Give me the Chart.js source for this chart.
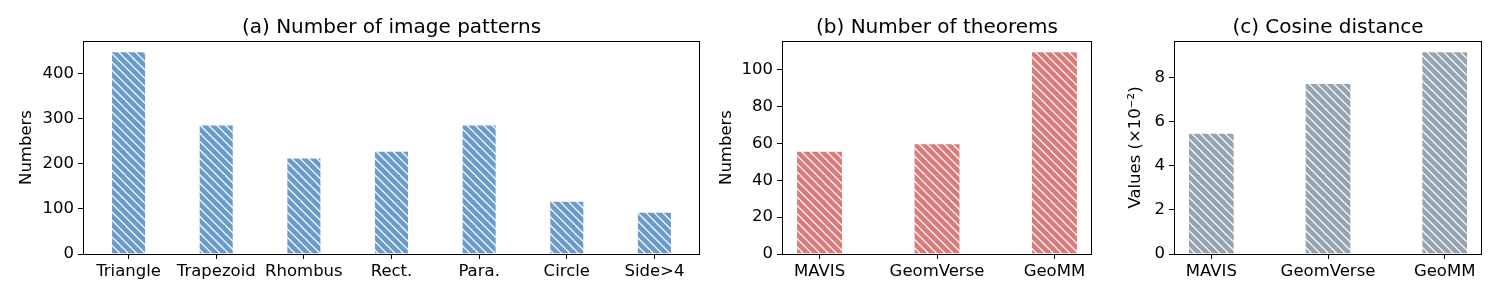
<!DOCTYPE html>
<html>
<head>
<meta charset="utf-8">
<script src="https://cdn.jsdelivr.net/npm/chart.js"></script>
<style>
body { margin: 0; background: #fff; }
#wrap { position: relative; width: 1500px; height: 300px; }
.panel { position: absolute; top: 0; height: 300px; }
</style>
</head>
<body>
<div id="wrap">
	<div class="panel" style="left:0px;width:710px"><canvas id="shapeChart"></canvas></div>
	<div class="panel" style="left:700px;width:400px"><canvas id="theoremChart"></canvas></div>
	<div class="panel" style="left:1100px;width:400px"><canvas id="cosineChart"></canvas></div>
</div>

<script>
// data
var shapeLabels = ["Triangle", "Trapezoid", "Rhombus", "Rect.", "Para.", "Circle", "Side>4"];
var shapeCounts = [450, 287, 214, 229, 287, 118, 94];

var sourceLabels = ["MAVIS", "GeomVerse", "GeoMM"];
var theoremCounts = [56, 60, 110];
var cosineValues = [5.5, 7.75, 9.2];

var FONT = "'DejaVu Sans', sans-serif";
Chart.defaults.font.family = FONT;
Chart.defaults.color = "#000";

// diagonal white hatch like matplotlib "\\"
function hatch(base) {
	var size = 25;
	var c = document.createElement("canvas");
	c.width = size; c.height = size;
	var g = c.getContext("2d");
	g.fillStyle = base;
	g.fillRect(0, 0, size, size);
	g.strokeStyle = "rgba(255,255,255,0.95)";
	g.lineWidth = 1.3;
	var step = size / 3;
	for (var k = -size; k <= size; k += step) {
		g.beginPath();
		g.moveTo(k - 2, -2);
		g.lineTo(k + size + 2, size + 2);
		g.stroke();
	}
	return g.createPattern(c, "repeat");
}

// all four spines + title centred over the axes
var frame = {
	id: "frame",
	afterDatasetsDraw: function (chart) {
		var a = chart.chartArea, ctx = chart.ctx;
		ctx.save();
		ctx.strokeStyle = "#000";
		ctx.lineWidth = 1;
		ctx.strokeRect(Math.round(a.left) + 0.5, Math.round(a.top) + 0.5,
			Math.round(a.right - a.left) - 1, Math.round(a.bottom - a.top));
		ctx.fillStyle = "#000";
		ctx.font = "20px " + FONT;
		ctx.textAlign = "center";
		ctx.textBaseline = "alphabetic";
		ctx.fillText(chart.options.plugins.frame.text, (a.left + a.right) / 2, a.top - 8.5);
		ctx.restore();
	}
};

function makeBar(id, labels, values, color, title, yTitle, yMax, yStep, yWidth, yTitlePad, rightPad) {
	var n = labels.length;
	var margin = 0.05 * (n - 1 + 0.4);
	return new Chart(document.getElementById(id), {
		type: "bar",
		data: {
			datasets: [{
				data: values.map(function (v, i) { return { x: i, y: v }; }),
				backgroundColor: hatch(color),
				borderColor: "rgba(255,255,255,0.8)",
				borderWidth: 1,
				barPercentage: 0.4,
				categoryPercentage: 1
			}]
		},
		options: {
			responsive: true,
			maintainAspectRatio: false,
			animation: false,
			layout: { padding: { left: 0, right: rightPad, top: 41, bottom: 0 } },
			plugins: {
				legend: { display: false },
				tooltip: { enabled: false },
				title: { display: false },
				frame: { text: title }
			},
			scales: {
				x: {
					type: "linear",
					offset: false,
					min: -0.2 - margin,
					max: n - 1 + 0.2 + margin,
					afterBuildTicks: function (s) {
						s.ticks = labels.map(function (_, i) { return { value: i }; });
					},
					afterFit: function (s) { s.height = 46; },
					ticks: {
						autoSkip: false,
						maxRotation: 0,
						padding: 3,
						font: { size: 16.5 },
						callback: function (v) { return labels[v]; }
					},
					grid: { drawOnChartArea: false, offset: false, tickLength: 5, color: "#000" },
					border: { display: false }
				},
				y: {
					min: 0,
					max: yMax,
					afterFit: function (s) { s.width = yWidth; },
					ticks: { stepSize: yStep, includeBounds: false, padding: 4, font: { size: 16.5 } },
					grid: { drawOnChartArea: false, tickLength: 5, color: "#000" },
					border: { display: false },
					title: {
						display: true,
						text: yTitle,
						font: { size: 16.5 },
						padding: { top: yTitlePad, bottom: 0 }
					}
				}
			}
		},
		plugins: [frame]
	});
}

makeBar("shapeChart", shapeLabels, shapeCounts, "#6A9BC9",
	"(a) Number of image patterns", "Numbers",
	Math.max.apply(null, shapeCounts) * 1.05, 100, 83, 17, 10);

makeBar("theoremChart", sourceLabels, theoremCounts, "#D87B7A",
	"(b) Number of theorems", "Numbers",
	Math.max.apply(null, theoremCounts) * 1.05, 20, 82, 17, 8);

makeBar("cosineChart", sourceLabels, cosineValues, "#95A3B1",
	"(c) Cosine distance", "Values (\u00d710\u207b\u00b2)",
	Math.max.apply(null, cosineValues) * 1.05, 2, 74, 26, 18);
</script>
</body>
</html>
